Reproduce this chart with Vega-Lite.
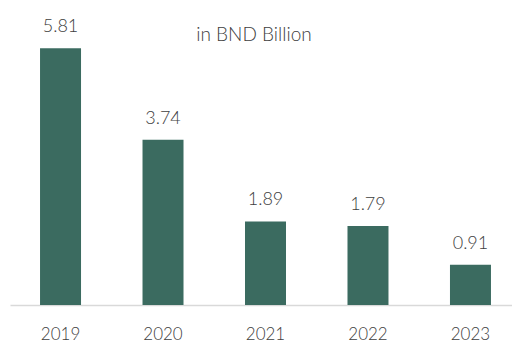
{
  "$schema": "https://vega.github.io/schema/vega-lite/v6.json",
  "autosize": {"type": "none"},
  "width": 502,
  "height": 305,
  "padding": {"left": 10, "top": 0, "right": 0, "bottom": 37},
  "background": "white",
  "title": {
    "text": "in BND Billion",
    "orient": "top",
    "anchor": "middle",
    "offset": 0,
    "dx": -7,
    "dy": 54,
    "baseline": "middle",
    "font": "Lato",
    "fontWeight": 300,
    "fontSize": 19,
    "color": "#404040"
  },
  "data": {
    "values": [
      {"year": "2019", "value": 5.81},
      {"year": "2020", "value": 3.74},
      {"year": "2021", "value": 1.89},
      {"year": "2022", "value": 1.79},
      {"year": "2023", "value": 0.91}
    ]
  },
  "encoding": {
    "x": {
      "field": "year",
      "type": "nominal",
      "scale": {"range": [0, 511], "paddingInner": 0.6, "paddingOuter": 0.293},
      "axis": {
        "title": null,
        "labelAngle": 0,
        "ticks": false,
        "labelFont": "Lato",
        "labelFontWeight": 300,
        "labelFontSize": 17,
        "labelColor": "#404040",
        "labelPadding": 21,
        "domainColor": "#d9d9d9",
        "domainWidth": 1.5
      }
    },
    "y": {
      "field": "value",
      "type": "quantitative",
      "scale": {"domain": [0, 6.9]},
      "axis": null
    }
  },
  "layer": [
    {"mark": {"type": "bar", "color": "#3b6b60"}},
    {
      "mark": {
        "type": "text",
        "dy": -12,
        "baseline": "bottom",
        "font": "Lato",
        "fontWeight": 300,
        "fontSize": 18,
        "color": "#404040"
      },
      "encoding": {"text": {"field": "value", "type": "quantitative", "format": ".2f"}}
    }
  ],
  "config": {"view": {"stroke": null}}
}
